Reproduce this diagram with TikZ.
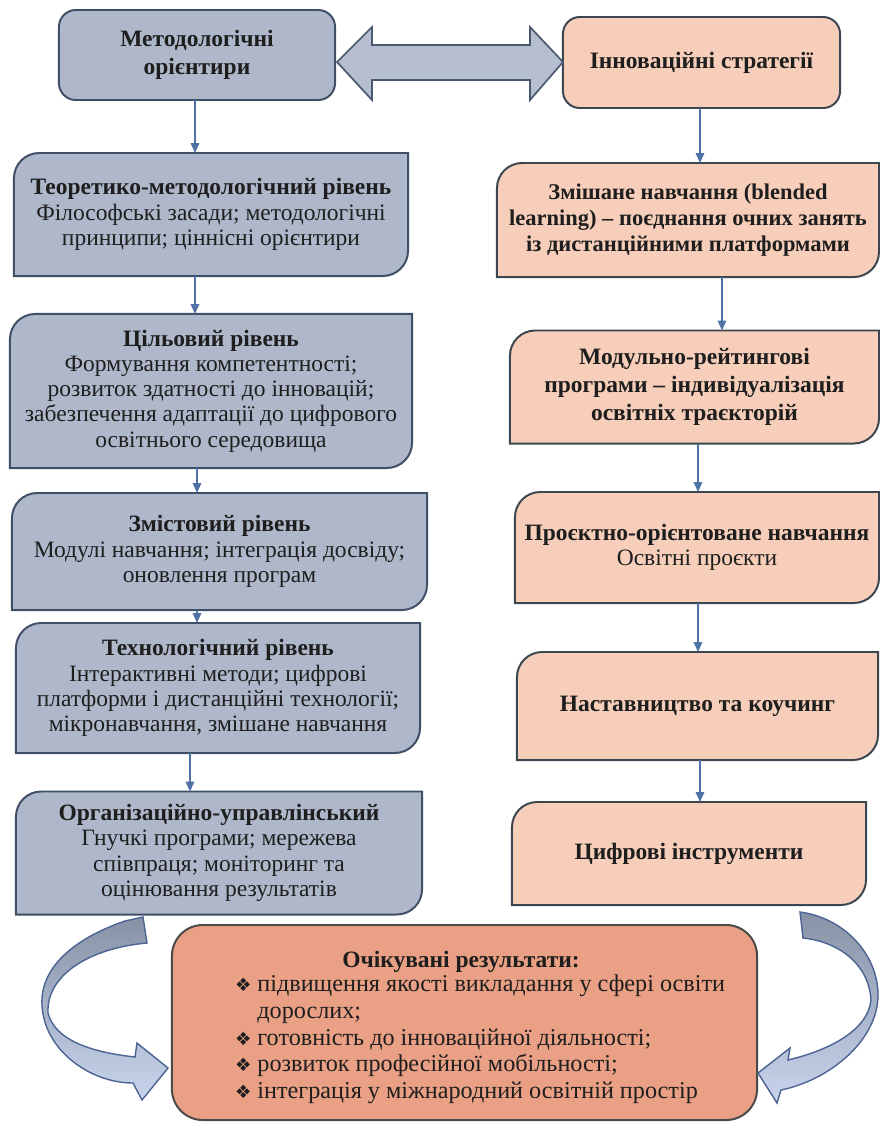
\documentclass[tikz,border=0pt]{standalone}
\usepackage{fontspec}
\setmainfont{Liberation Serif}
\newfontfamily\symf{DejaVu Sans}
\usetikzlibrary{arrows.meta,backgrounds,calc}
\definecolor{slate}{HTML}{AEB8CA}
\definecolor{slateb}{HTML}{3F4F66}
\definecolor{peach}{HTML}{F6CEB9}
\definecolor{peachb}{HTML}{3C4650}
\definecolor{salmon}{HTML}{E9A084}
\definecolor{salmonb}{HTML}{4A4A4A}
\definecolor{conn}{HTML}{4F71A5}
\definecolor{dblfill}{HTML}{B5BFD0}
\definecolor{dblb}{HTML}{4A5870}
\definecolor{crvtop}{HTML}{8792A6}
\definecolor{crvbot}{HTML}{C8D5EC}
\definecolor{crvb}{HTML}{4C6494}
\definecolor{txt}{HTML}{1E1E1E}
\newcommand\dgshape[2]{%
  \path[#2] (#1.south west) -- ([yshift=-18pt]#1.north west)
    .. controls ([yshift=-8pt]#1.north west) and ([xshift=8pt]#1.north west) .. ([xshift=18pt]#1.north west)
    -- (#1.north east) -- ([yshift=18pt]#1.south east)
    .. controls ([yshift=8pt]#1.south east) and ([xshift=-8pt]#1.south east) .. ([xshift=-18pt]#1.south east)
    -- cycle;}
\newcommand\bul{\makebox[0.56cm][l]{\symf\fontsize{13}{13}\selectfont ❖}}
\begin{document}
\begin{tikzpicture}[x=0.025cm,y=-0.025cm,
  tbox/.style={inner sep=0pt,outer sep=0pt,align=center,text=txt,font=\fontsize{16.7}{18}\selectfont},
  sfill/.style={fill=slate,draw=slateb,line width=1.4pt},
  pfill/.style={fill=peach,draw=peachb,line width=1.4pt},
  cn/.style={draw=conn,line width=1.2pt,-{Triangle[length=7pt,width=6pt]}},
  crv/.style={top color=crvtop,bottom color=crvbot,draw=crvb,line width=1pt}]
\useasboundingbox (0,0) rectangle (880,1124);

% left column
\node[tbox,minimum width=6.9cm,minimum height=2.25cm,font=\bfseries\fontsize{16.7}{20}\selectfont] (A) at (197,55) {Методологічні\\орієнтири};
\node[tbox,minimum width=9.85cm,minimum height=3.075cm] (C) at (211,214.5)
  {\textbf{Теоретико-методологічний рівень}\\Філософські засади; методологічні\\принципи; ціннісні орієнтири};
\node[tbox,minimum width=10.05cm,minimum height=3.85cm] (D) at (211,391)
  {\textbf{Цільовий рівень}\\Формування компетентності;\\розвиток здатності до інновацій;\\забезпечення адаптації до цифрового\\освітнього середовища};
\node[tbox,minimum width=10.375cm,minimum height=2.925cm] (E) at (219.5,551.5)
  {\textbf{Змістовий рівень}\\Модулі навчання; інтеграція досвіду;\\оновлення програм};
\node[tbox,minimum width=10.1cm,minimum height=3.25cm] (F) at (218,688)
  {\textbf{Технологічний рівень}\\Інтерактивні методи; цифрові\\платформи і дистанційні технології;\\мікронавчання, змішане навчання};
\node[tbox,minimum width=10.15cm,minimum height=3.075cm] (G) at (219,853)
  {\textbf{Організаційно-управлінський}\\Гнучкі програми; мережева\\співпраця; моніторинг та\\оцінювання результатів};

% right column
\node[tbox,minimum width=6.925cm,minimum height=2.275cm,font=\bfseries\fontsize{16.7}{20}\selectfont] (B) at (701.5,62.5) {Інноваційні стратегії};
\node[tbox,minimum width=9.55cm,minimum height=2.85cm,font=\bfseries\fontsize{16}{18.5}\selectfont] (H) at (688,220)
  {Змішане навчання (blended\\learning) – поєднання очних занять\\із дистанційними платформами};
\node[tbox,minimum width=9.225cm,minimum height=2.825cm,font=\bfseries\fontsize{16.7}{20}\selectfont] (I) at (694.5,387)
  {Модульно-рейтингові\\програми – індивідуалізація\\освітніх траєкторій};
\node[tbox,minimum width=9.1cm,minimum height=2.775cm] (J) at (697,547.5)
  {\textbf{Проєктно-орієнтоване навчання}\\Освітні проєкти};
\node[tbox,minimum width=9.025cm,minimum height=2.7cm,font=\bfseries\fontsize{16.7}{18}\selectfont] (K) at (697.5,706)
  {Наставництво та коучинг};
\node[tbox,minimum width=8.85cm,minimum height=2.575cm,font=\bfseries\fontsize{16.7}{18}\selectfont] (L) at (689,853.5)
  {Цифрові інструменти};

% bottom box
\node[tbox,minimum width=14.625cm,minimum height=4.875cm] (M) at (464.5,1022.5) {};
\node[tbox,font=\bfseries\fontsize{16.7}{18}\selectfont] (Mh) at (461,962) {Очікувані результати:};
\node[tbox,anchor=north west,align=left,font=\fontsize{17.2}{19}\selectfont] (Mb) at (235,975)
  {\bul підвищення якості викладання у сфері освіти\\
   \hspace*{0.56cm}дорослих;\\
   \bul готовність до інноваційної діяльності;\\
   \bul розвиток професійної мобільності;\\
   \bul інтеграція у міжнародний освітній простір};

% box shapes
\begin{scope}[on background layer]
  \path[sfill,rounded corners=12pt] (A.north west) rectangle (A.south east);
  \path[pfill,rounded corners=12pt] (B.north west) rectangle (B.south east);
  \dgshape{C}{sfill}
  \dgshape{D}{sfill}
  \dgshape{E}{sfill}
  \dgshape{F}{sfill}
  \dgshape{G}{sfill}
  \dgshape{H}{pfill}
  \dgshape{I}{pfill}
  \dgshape{J}{pfill}
  \dgshape{K}{pfill}
  \dgshape{L}{pfill}
  \path[fill=salmon,draw=salmonb,line width=1.4pt,rounded corners=22pt] (M.north west) rectangle (M.south east);
\end{scope}

% double block arrow between A and B
\path[fill=dblfill,draw=dblb,line width=1.2pt,line join=miter]
  (337,62) -- (372,27) -- (372,45) -- (530,45) -- (530,27) -- (563,62)
  -- (530,100) -- (530,80) -- (372,80) -- (372,100) -- cycle;

% connectors
\coordinate (x190) at (190,0);
\coordinate (x195) at (195,0);
\coordinate (x197) at (197,0);
\coordinate (x698) at (698,0);
\coordinate (x700) at (700,0);
\coordinate (x722) at (722,0);
\draw[cn] (A.south -| x195) -- (C.north -| x195);
\draw[cn] (C.south -| x195) -- (D.north -| x195);
\draw[cn] (D.south -| x197) -- (E.north -| x197);
\draw[cn] (E.south -| x197) -- (F.north -| x197);
\draw[cn] (F.south -| x190) -- (G.north -| x190);
\draw[cn] (B.south -| x700) -- (H.north -| x700);
\draw[cn] (H.south -| x722) -- (I.north -| x722);
\draw[cn] (I.south -| x698) -- (J.north -| x698);
\draw[cn] (J.south -| x698) -- (K.north -| x698);
\draw[cn] (K.south -| x700) -- (L.north -| x700);

% curved block arrows
\shadedraw[crv]
  (143,917) -- (125,921) .. controls (70,940) and (40,970) .. (42,1005)
  .. controls (44,1050) and (90,1083) .. (133,1083)
  -- (142,1100) -- (168,1068) -- (137,1043) -- (135,1057)
  .. controls (90,1052) and (55,1040) .. (48,1013)
  .. controls (46,975) and (90,948) .. (147,943) -- cycle;
\shadedraw[crv]
  (800,912) .. controls (845,918) and (878,955) .. (878,995)
  .. controls (878,1040) and (830,1080) .. (781,1090)
  -- (777,1103) -- (758,1073) -- (790,1048) -- (788,1060)
  .. controls (830,1050) and (868,1030) .. (871,1000)
  .. controls (869,965) and (840,942) .. (803,938) -- cycle;
\end{tikzpicture}
\end{document}
